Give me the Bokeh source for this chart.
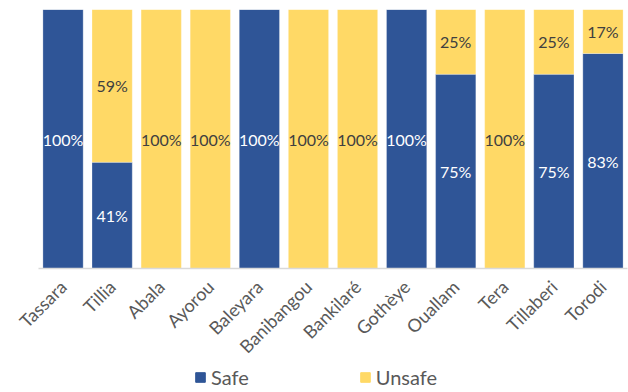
import math
from bokeh.plotting import figure
from bokeh.layouts import column
from bokeh.models import ColumnDataSource, FactorRange, Range1d, Legend, LegendItem, LabelSet
from bokeh.core.properties import value
from bokeh.embed import file_html
from bokeh.resources import INLINE

districts = ["Tassara", "Tillia", "Abala", "Ayorou", "Baleyara", "Banibangou",
             "Bankilaré", "Gothèye", "Ouallam", "Tera", "Tillaberi", "Torodi"]
safe = [100, 41, 0, 0, 100, 0, 0, 100, 75, 0, 75, 83]
unsafe = [0, 59, 100, 100, 0, 100, 100, 0, 25, 100, 25, 17]
series = ["Safe", "Unsafe"]

BLUE = "#2F5597"
YELLOW = "#FFD966"
FONT = "Lato"

src = ColumnDataSource(dict(x=districts, Safe=safe, Unsafe=unsafe))

p = figure(x_range=FactorRange(*districts), y_range=Range1d(0, 100),
           width=628, height=368, output_backend="svg", toolbar_location=None,
           y_axis_location=None,
           min_border_left=38, min_border_right=1, min_border_top=9, min_border_bottom=100)

r = p.vbar_stack(series, x="x", width=0.82, source=src,
                 color=[BLUE, YELLOW], line_color="white", line_alpha=0.35, line_width=0.8)

# labels
sx, sy, st = [], [], []
ux, uy, ut = [], [], []
for d, s, u in zip(districts, safe, unsafe):
    if s > 0:
        sx.append(d); sy.append(s / 2); st.append(f"{s}%")
    if u > 0:
        ux.append(d); uy.append(s + u / 2); ut.append(f"{u}%")
p.add_layout(LabelSet(x="x", y="y", text="t", source=ColumnDataSource(dict(x=sx, y=sy, t=st)),
                      text_color="white", text_align="center", text_baseline="middle",
                      text_font=value(FONT), text_font_size="16px"))
p.add_layout(LabelSet(x="x", y="y", text="t", source=ColumnDataSource(dict(x=ux, y=uy, t=ut)),
                      text_color="#404040", text_align="center", text_baseline="middle",
                      text_font=value(FONT), text_font_size="16px"))

p.grid.visible = False
p.outline_line_color = None
p.xaxis.axis_line_color = "#D9D9D9"
p.xaxis.axis_line_width = 1.5
p.xaxis.major_tick_line_color = None
p.xaxis.minor_tick_line_color = None
p.xaxis.major_label_orientation = math.pi / 4
p.xaxis.major_label_text_font = FONT
p.xaxis.major_label_text_font_size = "18px"
p.xaxis.major_label_text_color = "#595959"
p.xaxis.major_label_standoff = 9
p.x_range.range_padding = 0

# legend strip
lg = figure(x_range=FactorRange(*districts), y_range=Range1d(1000, 1001),
            width=628, height=24, output_backend="svg", toolbar_location=None,
            x_axis_location=None, y_axis_location=None,
            min_border=0, min_border_left=0, min_border_right=0, min_border_top=0, min_border_bottom=0)
lr = lg.vbar_stack(series, x="x", width=0.82, source=src, color=[BLUE, YELLOW])
lg.grid.visible = False
lg.outline_line_color = None
legend = Legend(items=[LegendItem(label=s, renderers=[rr]) for s, rr in zip(series, lr)],
                orientation="horizontal", location=(156, 3),
                label_text_font=FONT, label_text_font_size="20px", label_text_color="#595959",
                glyph_width=12, glyph_height=12, label_height=16, label_standoff=5,
                spacing=110, border_line_color=None,
                background_fill_alpha=0, padding=0, margin=0)
lg.add_layout(legend)

open("out.html", "w").write(file_html(column(p, lg, spacing=0), INLINE))
